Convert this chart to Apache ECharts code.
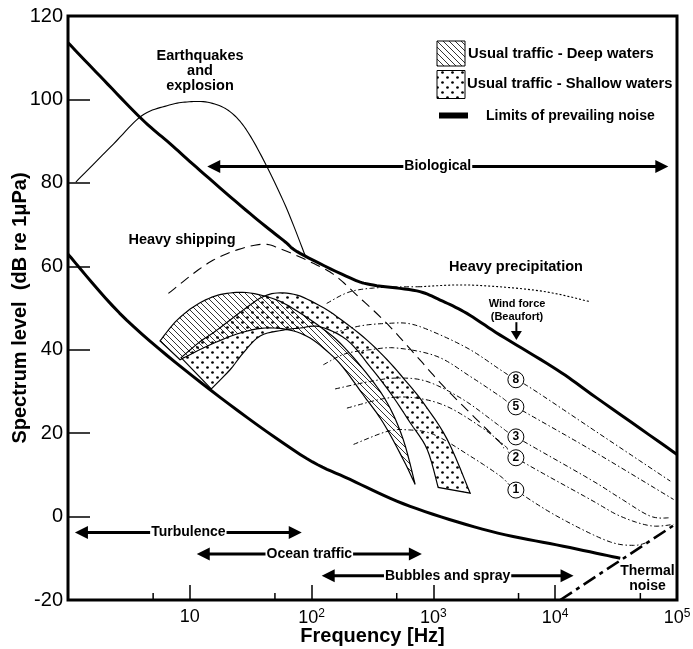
<!DOCTYPE html>
<html><head><meta charset="utf-8">
<script src="https://cdn.jsdelivr.net/npm/echarts@6/dist/echarts.min.js"></script>
<style>html,body{margin:0;padding:0;background:#fff}#c{width:693px;height:649px}</style>
</head><body><div id="c"></div>
<script>
// ---- data (frequency in Hz, level in dB re 1uPa) ----
const upperLimit = [[1,113.6],[1.83,105.6],[4.03,95.3],[6.88,89.4],[12.1,83.0],[31.3,72.6],[58.7,66.2],[80.5,63.1],[207,57.2],[320,55.5],[731,54.1],[1137,51.9],[1884,48.7],[3535,43.5],[10330,35.2],[22030,28.4],[100000,14.9]];
const lowerLimit = [[1,62.9],[3.03,47.1],[14.7,30.4],[80.5,14.9],[207,8.9],[645,2.45],[2925,-3.5],[11640,-7.1],[34200,-10.0]];
const thermalNoise = [[11000,-20],[95000,-2]];
const earthquakes = [[1.16,80.2],[2.36,89.3],[4.03,96.1],[6.51,98.5],[9.49,99.4],[14.7,99.2],[22.4,96.6],[33.1,90.1],[58.3,75.8],[88.5,62.6]];
const heavyShipping = [[6.67,53.5],[15.6,61.5],[36.6,65.2],[58.7,63.9],[117.5,59.9],[162,57.4],[235,53.1],[415,46.3],[731,38.4],[1291,30.4],[3537,17.7],[3755,16.5]];
const precipitationLow = [[133,51.1],[207,53.9],[366,54.9],[779,55.1]];
const precipitationHigh = [[779,55.1],[2005,55.5],[7530,54.1],[19400,51.5]];
const wind8 = [[150,44.0],[250,45.7],[415,46.3],[645,46.2],[1069,43.9],[2005,40.0],[3540,35.2],[4755,32.8],[6637,30.4],[23440,19.7],[88100,8.5]];
const wind5 = [[125,36.4],[188,39.0],[303,40.0],[501,40.4],[1069,38.4],[2005,33.6],[3540,28.8],[4755,26.3],[19400,16.1],[93800,4.1]];
const wind3 = [[156,30.6],[303,32.4],[501,33.2],[884,32.4],[1767,28.0],[3540,21.6],[4755,19.1],[19400,8.9],[34200,4.4],[60400,0.1],[88100,-0.3]];
const wind2 = [[195,26.0],[415,28.4],[731,28.4],[1291,26.4],[2423,21.6],[3890,16.9],[4755,14.1],[19400,4.1],[34200,0.1],[60400,-2.2],[93300,-1.9]];
const wind1 = [[221,17.3],[415,20.4],[606,20.8],[1002,19.7],[2005,14.5],[3540,9.7],[4755,6.35],[10330,0.1],[26600,-5.8],[44000,-6.9],[58100,-6.1]];
const deepOuter = [[5.70,42.1],[7.57,46.6],[10.6,50.2],[15.2,52.6],[21.4,53.6],[31.3,53.6],[52.1,51.9],[80.5,48.8],[117.5,45.5],[171,41.6],[280,34.5],[417,27.3],[565,18.5],[708,7.7]];
const deepInner = [[708,7.7],[565,13.7],[387,22.5],[265,29.2],[182,35.7],[142,39.0],[97.2,42.8],[66.6,44.7],[41.5,45.2],[25.9,44.0],[14.7,41.2],[8.32,37.6]];
const shallowOuter = [[8.48,38.1],[12.1,41.9],[16.7,44.7],[29.5,50.2],[39.3,52.6],[52.1,53.6],[76.0,53.1],[111,50.9],[150,48.6],[265,43.1],[417,37.6],[609,32.1],[825,27.3],[1298,18.5],[2005,5.6]];
const shallowInner = [[1094,7.0],[889,16.1],[645,22.5],[442,29.7],[303,35.9],[196,42.3],[117.5,45.5],[80.5,45.2],[58.3,44.7],[37.8,43.3],[27.4,39.2],[21.4,35.2],[15.0,30.6]];
const circleFreq = 4755;
const circleLevels = [32.8,26.3,19.1,14.1,6.35];
const circleLabels = ['8','5','3','2','1'];
const arrowLabels = ['Biological','Turbulence','Ocean traffic','Bubbles and spray'];
const arrowStart = [13.9,1.14,11.4,121];
const arrowEnd = [84900,83,804,14150];
const arrowLevel = [83.9,-3.8,-9.0,-14.2];
const windArrow = [4800, 46.6, 42.3];
const minorTicks = [5,50,500,5000,50000];
const yTicks = {min:-20, max:120, interval:20};

const FONT = '"Liberation Sans", Arial, Helvetica, sans-serif';

function hatchCanvas(){
  const s=6, c=document.createElement('canvas'); c.width=s; c.height=s;
  const g=c.getContext('2d'); g.strokeStyle='#000'; g.lineWidth=0.8; g.beginPath();
  for (const k of [-1,0,1]) { g.moveTo(k*s,0); g.lineTo(k*s+s,s); }
  g.stroke(); return c;
}
function dotCanvas(){
  const s=10, c=document.createElement('canvas'); c.width=s; c.height=s;
  const g=c.getContext('2d'); g.fillStyle='#000';
  for (const p of [[2.5,2.5],[7.5,7.5]]) { g.beginPath(); g.arc(p[0],p[1],1.35,0,Math.PI*2); g.fill(); }
  return c;
}
const HATCH = hatchCanvas(), DOTS = dotCanvas();

function spline(pts, n){
  if (pts.length < 3) return pts;
  const out=[];
  for (let i=0;i<pts.length-1;i++){
    const p0=pts[i-1]||pts[i], p1=pts[i], p2=pts[i+1], p3=pts[i+2]||pts[i+1];
    for (let t=0;t<n;t++){
      const u=t/n, u2=u*u, u3=u2*u;
      out.push([0,1].map(k=>0.5*((2*p1[k])+(-p0[k]+p2[k])*u+(2*p0[k]-5*p1[k]+4*p2[k]-p3[k])*u2+(-p0[k]+3*p1[k]-3*p2[k]+p3[k])*u3)));
    }
  }
  out.push(pts[pts.length-1]);
  return out;
}

function curveSeries(data, width, dash, z){
  return {type:'custom', silent:true, z: z||3, data,
    renderItem:(params, api)=>{
      if (params.dataIndex!==0) return null;
      const pts = spline(data.map(p=>api.coord(p)), 10);
      return {type:'polyline', shape:{points:pts},
        style:{stroke:'#000', lineWidth:width, lineDash:dash||null, fill:'none', lineJoin:'round'}};
    }};
}
function bandSeries(outer, inner, pattern){
  return {type:'custom', silent:true, z:2, data: outer.concat(inner),
    renderItem:(params, api)=>{
      if (params.dataIndex!==0) return null;
      const o=spline(outer.map(p=>api.coord(p)),6);
      const i=spline(inner.map(p=>api.coord(p)),6);
      return {type:'polygon', shape:{points:o.concat(i)},
        style:{fill:{image:pattern, repeat:'repeat'}, stroke:'#000', lineWidth:1.2}};
    }};
}

const windDash = [5,2.5,1.5,2.5];
const series = [
  bandSeries(deepOuter, deepInner, HATCH),
  bandSeries(shallowOuter, shallowInner, DOTS),
  curveSeries(upperLimit, 3, null, 4),
  curveSeries(lowerLimit, 3, null, 4),
  curveSeries(thermalNoise, 2.6, [14,5,4,5], 4),
  curveSeries(earthquakes, 1.1, null),
  curveSeries(heavyShipping, 1.1, [10,6]),
  curveSeries(precipitationLow, 1, windDash),
  curveSeries(precipitationHigh, 1.1, [2,2]),
  curveSeries(wind8, 1, windDash),
  curveSeries(wind5, 1, windDash),
  curveSeries(wind3, 1, windDash),
  curveSeries(wind2, 1, windDash),
  curveSeries(wind1, 1, windDash),
  { type:'scatter', silent:true, z:6, symbol:'circle', symbolSize:16,
    data: circleLevels.map((l,i)=>[circleFreq,l,circleLabels[i]]),
    itemStyle:{color:'#fff', borderColor:'#000', borderWidth:1, opacity:1},
    label:{show:true, position:'inside', formatter:p=>p.value[2], color:'#000', fontSize:12, fontFamily:FONT, fontWeight:'bold'} },
  { type:'custom', silent:true, z:5,
    data: arrowLabels.map((t,i)=>[arrowStart[i], arrowLevel[i], arrowEnd[i]]),
    renderItem:(params, api)=>{
      const i=params.dataIndex;
      const p1=api.coord([arrowStart[i], arrowLevel[i]]), p2=api.coord([arrowEnd[i], arrowLevel[i]]);
      const h=13, w=6.5;
      return {type:'group', children:[
        {type:'line', shape:{x1:p1[0]+h-1,y1:p1[1],x2:p2[0]-h+1,y2:p2[1]}, style:{stroke:'#000', lineWidth:3}},
        {type:'polygon', shape:{points:[[p1[0],p1[1]],[p1[0]+h,p1[1]-w],[p1[0]+h,p1[1]+w]]}, style:{fill:'#000'}},
        {type:'polygon', shape:{points:[[p2[0],p2[1]],[p2[0]-h,p2[1]-w],[p2[0]-h,p2[1]+w]]}, style:{fill:'#000'}},
        {type:'text', style:{text:arrowLabels[i], x:(p1[0]+p2[0])/2, y:p1[1], align:'center', verticalAlign:'middle',
          fontSize:14, fontWeight:'bold', fontFamily:FONT, fill:'#000', backgroundColor:'#fff', padding:[1,1]}}
      ]};
    }},
  { type:'custom', silent:true, z:5, data:[windArrow],
    renderItem:(params, api)=>{
      const a=api.coord([windArrow[0], windArrow[1]]), b=api.coord([windArrow[0], windArrow[2]]);
      return {type:'group', children:[
        {type:'line', shape:{x1:a[0],y1:a[1],x2:b[0],y2:b[1]-8}, style:{stroke:'#000', lineWidth:2}},
        {type:'polygon', shape:{points:[[b[0],b[1]],[b[0]-5.5,b[1]-9],[b[0]+5.5,b[1]-9]]}, style:{fill:'#000'}}
      ]};
    }},
  { type:'custom', silent:true, z:5, data: minorTicks.map(f=>[f, yTicks.min]),
    renderItem:(params, api)=>{
      const p=api.coord([api.value(0), api.value(1)]);
      return {type:'line', shape:{x1:p[0],y1:p[1],x2:p[0],y2:p[1]-7}, style:{stroke:'#000', lineWidth:1.5}};
    }}
];

const txt = (text, x, y, size, extra) => Object.assign({type:'text', x, y, z:10, silent:true,
  style:Object.assign({text, fontSize:size, fontWeight:'bold', fontFamily:FONT, fill:'#000', align:'center', verticalAlign:'middle'}, extra||{})});

const graphic = [
  txt('Earthquakes\nand\nexplosion', 200, 70.5, 14.5, {lineHeight:15}),
  txt('Heavy shipping', 182, 239.5, 14.5),
  txt('Heavy precipitation', 516, 267, 14.5),
  txt('Wind force\n(Beaufort)', 517, 310.5, 11, {lineHeight:12.7}),
  txt('Thermal\nnoise', 647.5, 579, 14, {lineHeight:15}),
  {type:'rect', z:10, silent:true, shape:{x:437, y:41, width:28, height:25}, style:{fill:{image:HATCH, repeat:'repeat'}, stroke:'#000', lineWidth:1}},
  {type:'rect', z:10, silent:true, shape:{x:437, y:70.5, width:28, height:28}, style:{fill:{image:DOTS, repeat:'repeat'}, stroke:'#000', lineWidth:1}},
  {type:'rect', z:10, silent:true, shape:{x:439, y:112.5, width:29, height:6}, style:{fill:'#000'}},
  txt('Usual traffic - Deep waters', 468, 53.5, 14.8, {align:'left'}),
  txt('Usual traffic - Shallow waters', 467, 84, 14.8, {align:'left'}),
  txt('Limits of prevailing noise', 486, 116, 14, {align:'left'})
];

const chart = echarts.init(document.getElementById('c'), null, {renderer:'canvas'});
chart.setOption({
  animation:false,
  backgroundColor:'#fff',
  grid:{left:68, right:16, top:16, bottom:49, show:true, borderColor:'#000', borderWidth:3, outerBoundsMode:'none', containLabel:false},
  xAxis:{type:'log', logBase:10, min:1, max:100000,
    axisLine:{show:false, onZero:false}, splitLine:{show:false},
    axisTick:{inside:true, length:15, lineStyle:{color:'#000', width:1.5}},
    axisLabel:{margin:8, color:'#000',
      formatter:v=>{const e=Math.round(Math.log10(v)); if(e===0) return ''; if(e===1) return '{b|10}'; return '{b|10}{s|'+e+'}';},
      rich:{b:{fontSize:18, fontFamily:FONT, color:'#000'}, s:{fontSize:12, fontFamily:FONT, color:'#000', padding:[0,0,9,0]}}},
    name:'Frequency [Hz]', nameLocation:'middle', nameGap:26, nameMoveOverlap:false,
    nameTextStyle:{fontSize:20, fontWeight:'bold', fontFamily:FONT, color:'#000'}},
  yAxis:{type:'value', min:yTicks.min, max:yTicks.max, interval:yTicks.interval,
    axisLine:{show:false}, splitLine:{show:false},
    axisTick:{inside:true, length:22, lineStyle:{color:'#000', width:1.5}},
    axisLabel:{margin:5, fontSize:20, fontFamily:FONT, color:'#000'},
    name:'Spectrum level  (dB re 1μPa)', nameLocation:'middle', nameGap:38, nameMoveOverlap:false,
    nameTextStyle:{fontSize:20, fontWeight:'bold', fontFamily:FONT, color:'#000'}},
  series,
  graphic
});
</script></body></html>
